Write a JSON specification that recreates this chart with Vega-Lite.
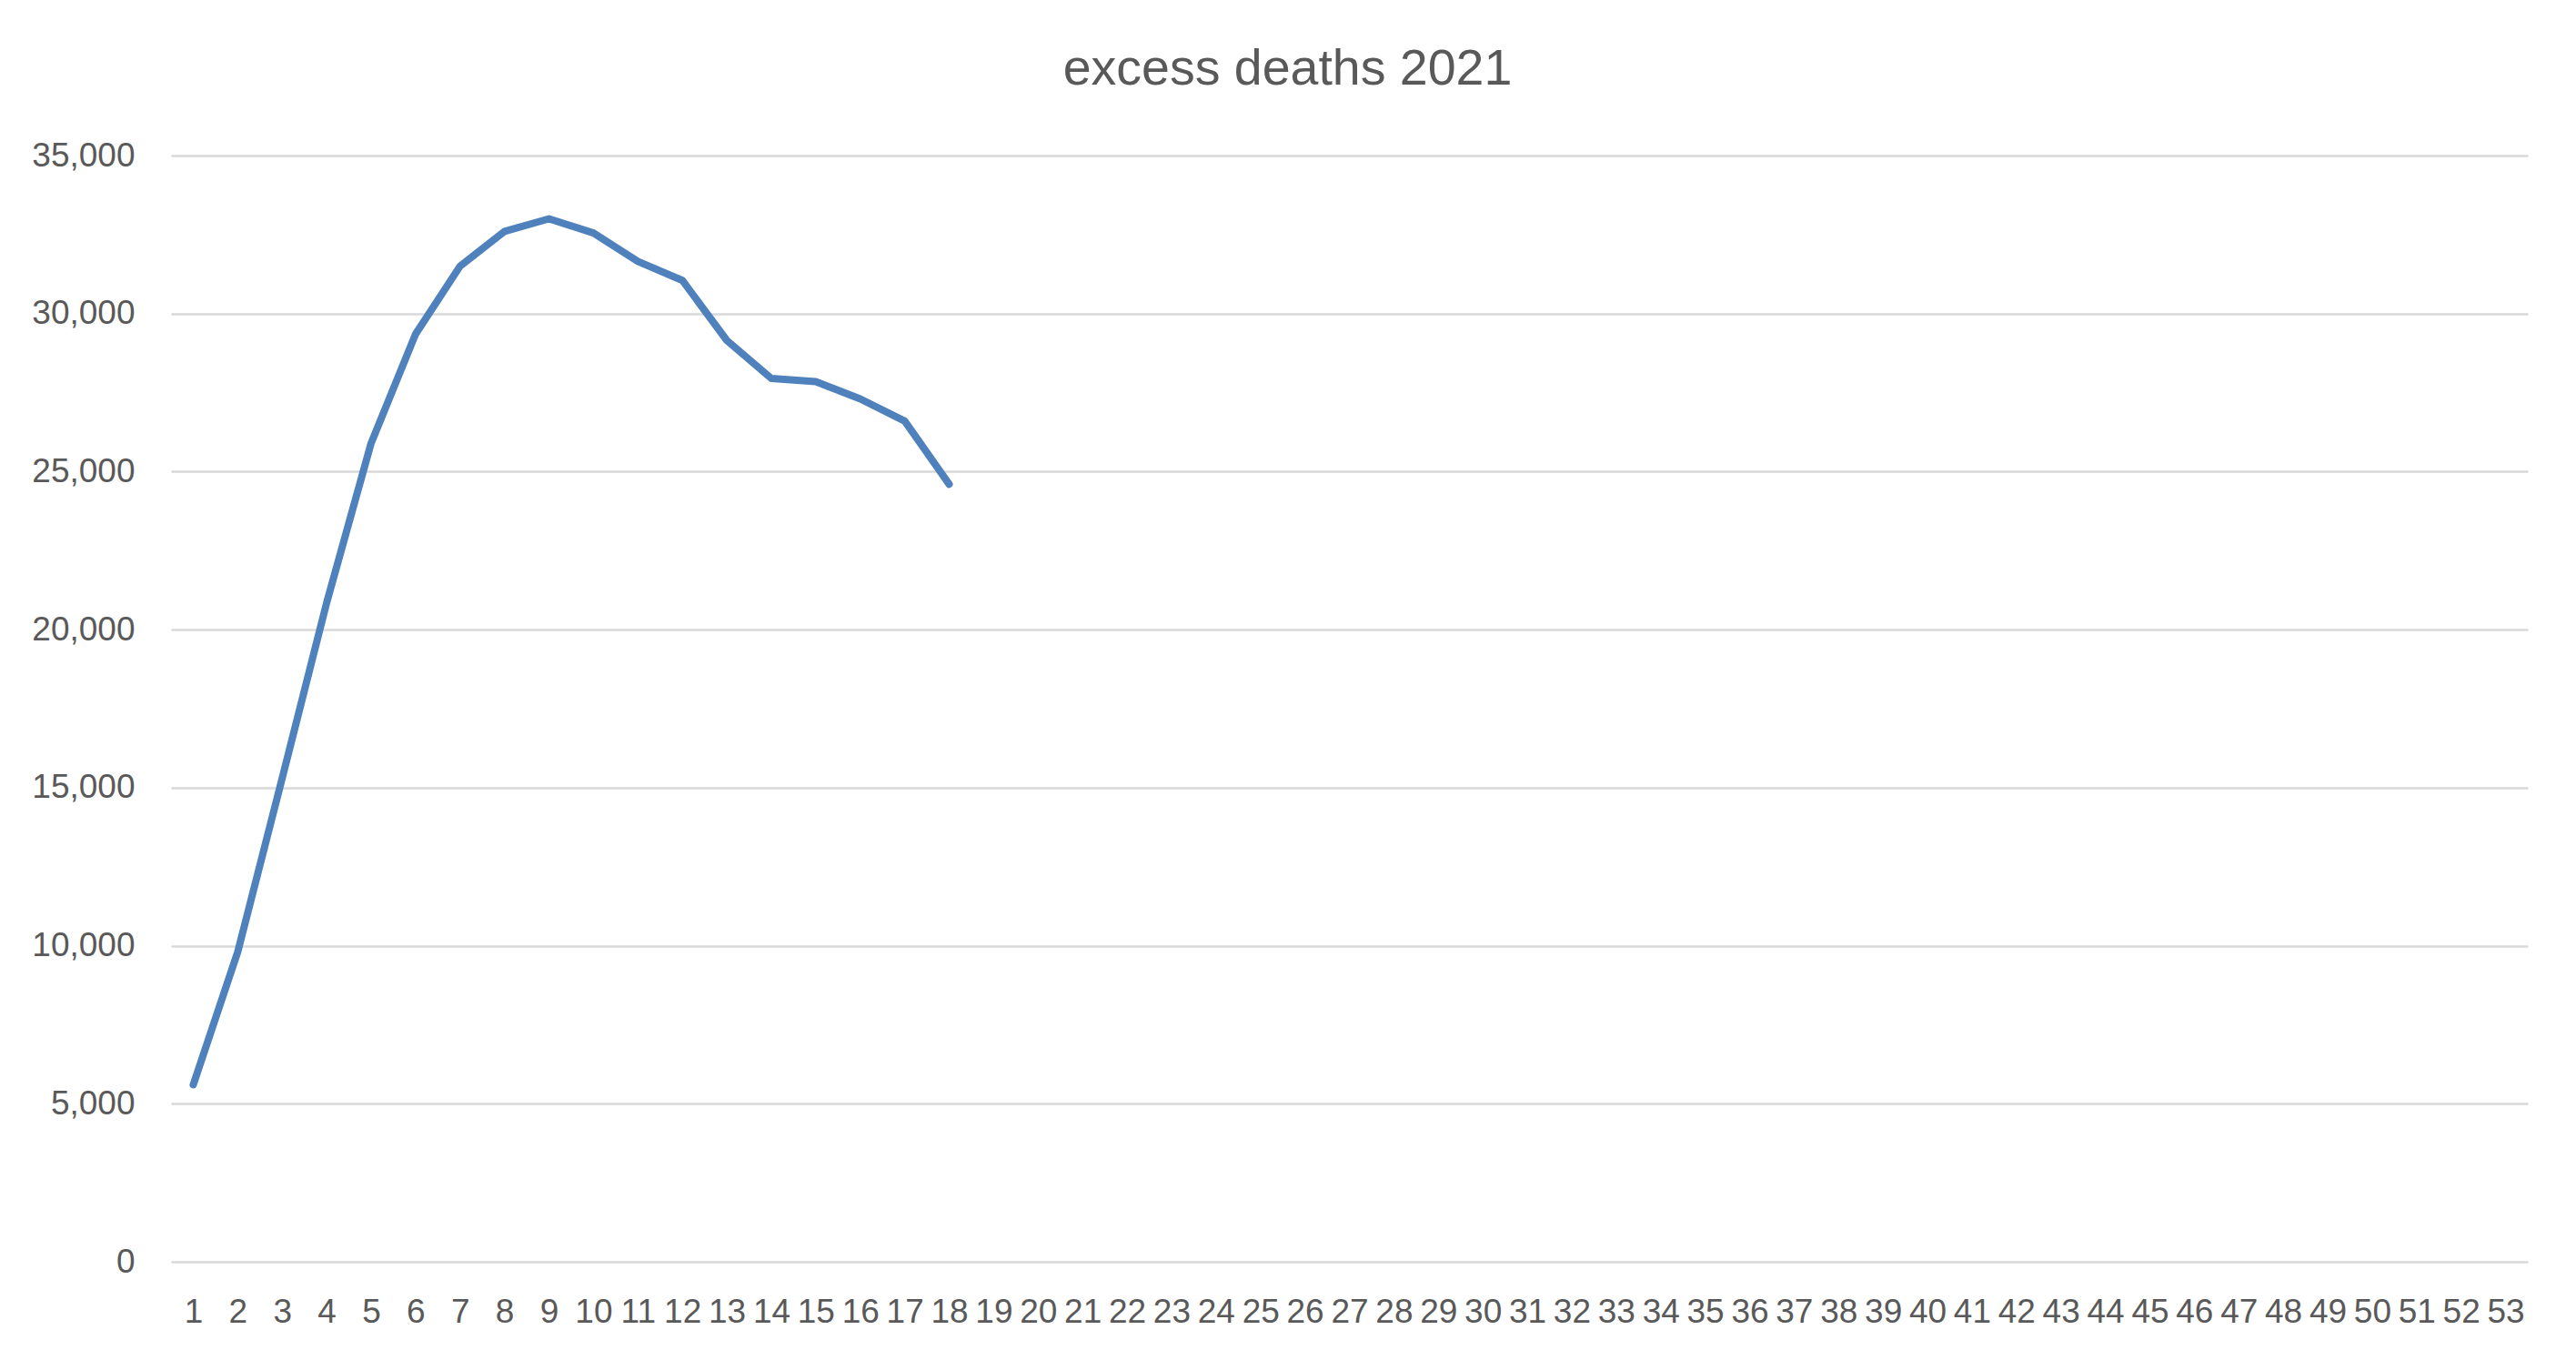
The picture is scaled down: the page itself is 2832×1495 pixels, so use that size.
{
  "$schema": "https://vega.github.io/schema/vega-lite/v6.json",
  "autosize": {"type": "none"},
  "width": 2591,
  "height": 1216,
  "padding": {"left": 188, "top": 171, "right": 53, "bottom": 108},
  "background": "white",
  "title": {
    "text": "excess deaths 2021",
    "anchor": "middle",
    "frame": "group",
    "dx": -68,
    "offset": 4,
    "baseline": "alphabetic",
    "font": "Liberation Sans",
    "fontSize": 55.5,
    "fontWeight": "normal",
    "color": "#595959"
  },
  "data": {
    "values": [
      {"week": 1, "deaths": 5600},
      {"week": 2, "deaths": 9800},
      {"week": 3, "deaths": 15300},
      {"week": 4, "deaths": 20850},
      {"week": 5, "deaths": 25900},
      {"week": 6, "deaths": 29350},
      {"week": 7, "deaths": 31500},
      {"week": 8, "deaths": 32600},
      {"week": 9, "deaths": 33000},
      {"week": 10, "deaths": 32550},
      {"week": 11, "deaths": 31650},
      {"week": 12, "deaths": 31050},
      {"week": 13, "deaths": 29150},
      {"week": 14, "deaths": 27950},
      {"week": 15, "deaths": 27850},
      {"week": 16, "deaths": 27300},
      {"week": 17, "deaths": 26600},
      {"week": 18, "deaths": 24600}
    ]
  },
  "mark": {"type": "line", "color": "#4f81bd", "strokeWidth": 8, "strokeCap": "round", "strokeJoin": "round"},
  "encoding": {
    "x": {
      "field": "week",
      "type": "ordinal",
      "scale": {
        "type": "point",
        "padding": 0.5,
        "domain": [1,2,3,4,5,6,7,8,9,10,11,12,13,14,15,16,17,18,19,20,21,22,23,24,25,26,27,28,29,30,31,32,33,34,35,36,37,38,39,40,41,42,43,44,45,46,47,48,49,50,51,52,53]
      },
      "axis": {
        "title": null,
        "labelAngle": 0,
        "domain": false,
        "ticks": false,
        "tickSize": 0,
        "grid": false,
        "labelPadding": 37,
        "labelFont": "Liberation Sans",
        "labelFontSize": 37,
        "labelColor": "#595959",
        "labelOverlap": false,
        "labelFlush": false
      }
    },
    "y": {
      "field": "deaths",
      "type": "quantitative",
      "scale": {"domain": [0, 35000], "nice": false},
      "axis": {
        "title": null,
        "values": [0, 5000, 10000, 15000, 20000, 25000, 30000, 35000],
        "format": ",.0f",
        "domain": false,
        "ticks": false,
        "tickSize": 0,
        "grid": true,
        "gridColor": "#d9d9d9",
        "gridWidth": 2.5,
        "labelPadding": 40,
        "labelFont": "Liberation Sans",
        "labelFontSize": 37,
        "labelColor": "#595959"
      }
    }
  },
  "config": {"view": {"stroke": null}}
}
